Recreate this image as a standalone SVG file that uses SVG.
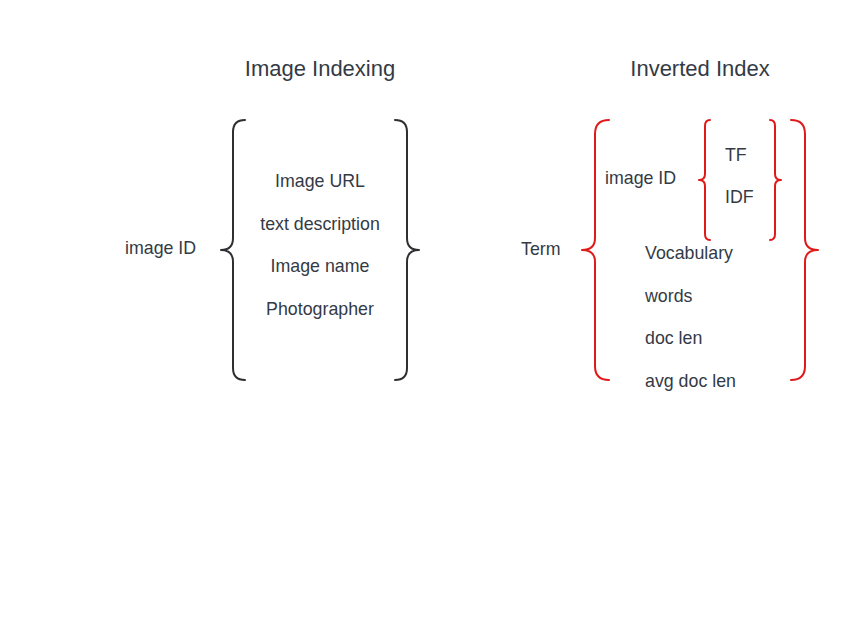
<svg xmlns="http://www.w3.org/2000/svg" width="860" height="640" viewBox="0 0 860 640">
<style>
text{font-family:"Liberation Sans",Arial,sans-serif;fill:#333a45;font-size:17.8px}
.t{font-size:22px;text-anchor:middle}
.c{text-anchor:middle}
.b{fill:none;stroke:#2f2f33;stroke-width:2;stroke-linecap:round;stroke-linejoin:round}
.r{fill:none;stroke:#e01919;stroke-width:2;stroke-linecap:round;stroke-linejoin:round}
</style>
<rect width="860" height="640" fill="#fff"/>
<g id="image-indexing">
<text class="t" x="320" y="76">Image Indexing</text>
<text x="125" y="254">image ID</text>
<text class="c" x="320" y="187">Image URL</text>
<text class="c" x="320" y="230">text description</text>
<text class="c" x="320" y="272">Image name</text>
<text class="c" x="320" y="315">Photographer</text>
</g>
<g id="inverted-index">
<text class="t" x="700" y="76">Inverted Index</text>
<text x="521" y="255">Term</text>
<text x="605" y="184">image ID</text>
<text x="725" y="161">TF</text>
<text x="725" y="203">IDF</text>
<text x="645" y="259">Vocabulary</text>
<text x="645" y="302">words</text>
<text x="645" y="344">doc len</text>
<text x="645" y="387">avg doc len</text>
</g>
<g id="connectors">
<path class="b" d="M245,120 Q233,120 233,132 L233,238 Q233,250 221,250 Q233,250 233,262 L233,368 Q233,380 245,380"/>
<path class="b" d="M395,120 Q407,120 407,132 L407,238 Q407,250 419,250 Q407,250 407,262 L407,368 Q407,380 395,380"/>
<path class="r" d="M609,120 Q595,120 595,134 L595,238 Q595,250 582,250 Q595,250 595,262 L595,366 Q595,380 609,380"/>
<path class="r" d="M791,120 Q805,120 805,134 L805,238 Q805,250 818,250 Q805,250 805,262 L805,366 Q805,380 791,380"/>
<path class="r" d="M710,120 Q705,120 705,126 L705,174 Q705,180 699,180 Q705,180 705,186 L705,234 Q705,240 710,240"/>
<path class="r" d="M770,120 Q775,120 775,126 L775,174 Q775,180 781,180 Q775,180 775,186 L775,234 Q775,240 770,240"/>
</g>
</svg>
